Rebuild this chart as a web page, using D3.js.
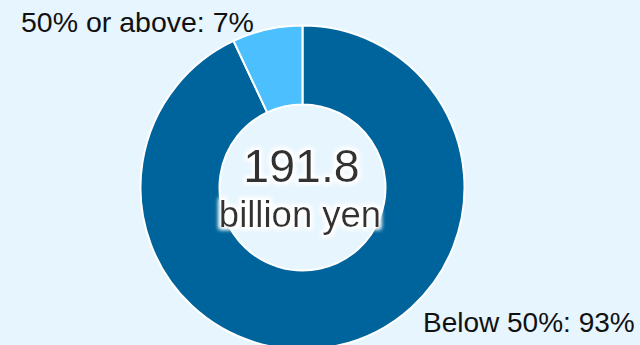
<!DOCTYPE html>
<html>
<head>
<meta charset="utf-8">
<script src="https://cdn.jsdelivr.net/npm/d3@7/dist/d3.min.js"></script>
<style>
  html, body { margin: 0; padding: 0; background: #e7f5fe; }
  svg { display: block; }
  text { font-family: "Liberation Sans", Arial, sans-serif; }
</style>
</head>
<body>
<svg id="chart" width="640" height="345"></svg>
<script>
// Share of holdings by ownership ratio
const categories = ["Below 50%", "50% or above"];
const shares = [93, 7];
const colors = ["#00649c", "#4cbfff"];
const totalLabel = "191.8";
const unitLabel = "billion yen";

const svg = d3.select("#chart");
const cx = 302.5, cy = 187.5;
const outerR = 162, innerR = 83;

// Soft white halo behind the centre figures
const defs = svg.append("defs");
const glow = defs.append("filter").attr("id", "halo")
  .attr("x", "-20%").attr("y", "-40%").attr("width", "140%").attr("height", "180%");
glow.append("feMorphology").attr("in", "SourceAlpha").attr("operator", "dilate").attr("radius", 1.5).attr("result", "grown");
glow.append("feGaussianBlur").attr("in", "grown").attr("stdDeviation", 2).attr("result", "blurred");
glow.append("feFlood").attr("flood-color", "#ffffff").attr("result", "white");
glow.append("feComposite").attr("in", "white").attr("in2", "blurred").attr("operator", "in").attr("result", "haloShape");
const merge = glow.append("feMerge");
merge.append("feMergeNode").attr("in", "haloShape");
merge.append("feMergeNode").attr("in", "haloShape");
merge.append("feMergeNode").attr("in", "SourceGraphic");

const pie = d3.pie().sort(null).value(d => d);
const arc = d3.arc().innerRadius(innerR).outerRadius(outerR);

const g = svg.append("g").attr("transform", `translate(${cx},${cy})`);
g.selectAll("path")
  .data(pie(shares))
  .join("path")
  .attr("d", arc)
  .attr("fill", (d, i) => colors[i])
  .attr("stroke", "#ffffff")
  .attr("stroke-width", 2);

// Centre total
g.append("text")
  .attr("x", -1).attr("y", -6)
  .attr("text-anchor", "middle")
  .attr("font-size", 46.5)
  .attr("fill", "#333333")
  .attr("filter", "url(#halo)")
  .text(totalLabel);
g.append("text")
  .attr("x", -2.5).attr("y", 39)
  .attr("text-anchor", "middle")
  .attr("font-size", 36.5)
  .attr("fill", "#333333")
  .attr("filter", "url(#halo)")
  .text(unitLabel);

// Slice labels
svg.append("text")
  .attr("x", 21).attr("y", 32)
  .attr("font-size", 28.5)
  .attr("fill", "#111111")
  .text(`${categories[1]}: ${shares[1]}%`);
svg.append("text")
  .attr("x", 423).attr("y", 331.5)
  .attr("font-size", 28)
  .attr("fill", "#111111")
  .text(`${categories[0]}: ${shares[0]}%`);
</script>
</body>
</html>
